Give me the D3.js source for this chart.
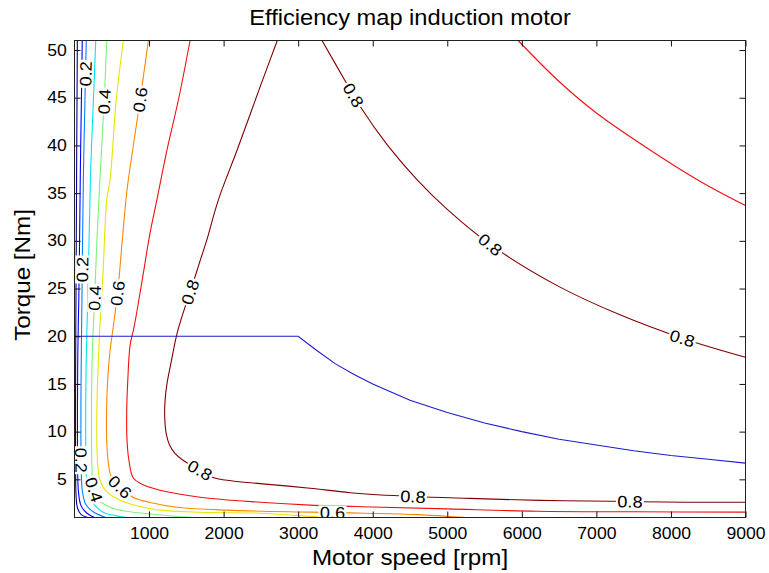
<!DOCTYPE html>
<html>
<head>
<meta charset="utf-8">
<script src="https://cdn.jsdelivr.net/npm/d3@7"></script>
<style>
  body { margin: 0; background: #fff; }
  svg { display: block; }
  text { font-family: "Liberation Sans", Arial, sans-serif; fill: #000; }
</style>
</head>
<body>
<svg width="769" height="573"></svg>
<script>
"use strict";

// efficiency levels (jet coloured in the original)
var levels = [0, 0.1, 0.2, 0.3, 0.4, 0.5, 0.6, 0.7, 0.8];

// contour lines, [speed rpm, torque Nm]
var eff00 = [[38,51],[34,45],[28,37],[24,30],[20,24],[16,18.5],[14,13],[14,9],[15,6],[20,3.5],[40,2],[90,1.3],[180,1.0]];
var eff01 = [[104,51],[93,45],[78,37],[68,30],[58,24],[45,18.5],[40,13],[40,9],[42,6],[52,3.8],[85,2.3],[160,1.5],[270,1.0]];
var eff02 = [[158,51],[141,45],[120,37],[108,30],[100,24],[92,18.5],[86,13],[86,9],[90,6],[105,3.8],[150,2.4],[250,1.6],[420,1.0]];
var eff03 = [[285,51],[255,45],[215,37],[195,30],[178,24],[160,18.5],[150,13],[150,9],[155,6],[178,3.8],[240,2.6],[383,1.56],[550,1.2],[705,1.0]];
var eff04 = [[432,51],[400,45],[345,37],[300,30],[270,24],[240,18.5],[228,13],[228,9],[235,6],[250,4.2],[300,3.0],[477,2.08],[700,1.65],[919,1.45],[1300,1.15],[1600,1.0]];
var eff05 = [[655,51],[560,44.8],[477,36.4],[432,34.3],[385,27],[340,21],[310,15.4],[300,12],[302,8],[318,6],[342,4.9],[420,3.8],[611,2.81],[850,2.2],[1148,1.77],[1700,1.55],[2490,1.45],[3000,1.2],[3430,1.0]];
var eff06 = [[991,51],[880,44.8],[780,39.5],[722,36.4],[690,34.3],[640,30],[584,25],[520,21],[477,18.5],[445,15.4],[430,12],[432,9],[450,7],[477,5.66],[530,4.8],[611,4.2],[785,3.13],[1000,2.6],[1376,2.08],[2047,1.77],[3160,1.56],[3900,1.45],[4600,1.3],[5240,1.0]];
var eff07a = [[1550,51],[1400,45],[1240,39.5],[1105,34.3],[1013,30.8],[900,25.5],[800,21],[745,19],[715,15.4],[700,12],[705,9],[730,7],[785,5.2],[900,4.5],[1148,3.86],[1685,3.13],[2490,2.6],[3160,2.3],[4000,2.1],[5000,1.9],[6200,1.66],[7500,1.6],[9000,1.56]];
var eff07b = [[5950,51],[6500,46.7],[7000,43.4],[7725,39.5],[8400,36.2],[9000,33.7]];
var eff08a = [[2720,51],[2530,47],[2180,39.5],[1930,34.3],[1775,30.1],[1680,27.8],[1591,25.6],[1480,23],[1376,20.3],[1289,17],[1240,15],[1215,13.3],[1210,11.5],[1230,9.8],[1275,8.6],[1350,7.7],[1456,7.0],[1685,5.96],[1860,5.2],[2100,4.85],[2490,4.55],[3160,4.07],[3700,3.6],[4540,3.2],[5300,3.0],[6250,2.8],[7200,2.7],[8200,2.6],[9000,2.6]];
var eff08b = [[3320,51],[3650,46.5],[3830,44.1],[4200,40],[4590,36.45],[5000,33.3],[5580,29.6],[6500,25.2],[7300,22.3],[8150,19.8],[9000,17.8]];

// where the contour labels sit: [level, rpm, Nm]
var labelSpots = [
  [0.2,150,47.5],[0.2,100,27],[0.2,88,7],
  [0.4,400,44.6],[0.4,270,24],[0.4,250,3.9],
  [0.6,880,44.8],[0.6,584,24.5],[0.6,611,4.2],[0.6,3460,1.4],
  [0.8,1560,24.6],[0.8,1685,6.0],[0.8,4540,3.2],[0.8,7450,2.7],
  [0.8,3700,45.1],[0.8,5577,29.6],[0.8,8154,19.8]
];

// torque limit of the motor
var limitSpeed  = [0, 1000, 2000, 3000, 3250, 3500, 3750, 4000, 4500, 5000, 5500, 6000, 6500, 7000, 7500, 8000, 8500, 9000];
var limitTorque = [20, 20, 20, 20, 18.5, 17.1, 16, 15, 13.3, 12, 10.9, 10, 9.2, 8.6, 8, 7.5, 7.1, 6.7];

var xTicks = [1000, 2000, 3000, 4000, 5000, 6000, 7000, 8000, 9000];
var yTicks = [5, 10, 15, 20, 25, 30, 35, 40, 45, 50];

var branches = [
  {level: 0,   pts: eff00}, {level: 0.1, pts: eff01}, {level: 0.2, pts: eff02},
  {level: 0.3, pts: eff03}, {level: 0.4, pts: eff04}, {level: 0.5, pts: eff05},
  {level: 0.6, pts: eff06}, {level: 0.7, pts: eff07a}, {level: 0.7, pts: eff07b},
  {level: 0.8, pts: eff08a}, {level: 0.8, pts: eff08b}
];

var jet = ["#00008f", "#0000ff", "#0080ff", "#00e6f0", "#7cf27c", "#e6e600", "#ff8800", "#f01010", "#800000"];
var color = d3.scaleOrdinal().domain(levels).range(jet);

var svg = d3.select("svg");
var x = d3.scaleLinear().domain([0, 9000]).range([74.5, 745.5]);
var y = d3.scaleLinear().domain([1, 51]).range([517.5, 40.5]);
var fontStretch = "scale(1.1,1)";

svg.append("clipPath").attr("id", "plot")
  .append("rect")
  .attr("x", x(0)).attr("y", y(51))
  .attr("width", x(9000) - x(0)).attr("height", y(1) - y(51));

var plot = svg.append("g").attr("clip-path", "url(#plot)");

var line = d3.line()
  .x(function(d) { return x(d[0]); })
  .y(function(d) { return y(d[1]); })
  .curve(d3.curveCatmullRom.alpha(0.5));

plot.selectAll(".contour")
  .data(branches)
  .enter().append("path")
    .attr("class", "contour")
    .attr("d", function(d) { return line(d.pts); })
    .attr("fill", "none")
    .attr("stroke", function(d) { return color(d.level); })
    .attr("stroke-width", 1.1);

// labels snapped on the nearest contour segment, turned along it
var labelLayer = plot.append("g");
labelSpots.forEach(function(spot) {
  var tx = x(spot[1]), ty = y(spot[2]);
  var best = null;
  branches.filter(function(b) { return b.level === spot[0]; }).forEach(function(b) {
    var P = b.pts.map(function(d) { return [x(d[0]), y(d[1])]; });
    for (var i = 0; i < P.length - 1; i++) {
      var ax = P[i][0], ay = P[i][1], dx = P[i+1][0] - ax, dy = P[i+1][1] - ay;
      var L = dx * dx + dy * dy;
      var u = L ? Math.max(0, Math.min(1, ((tx - ax) * dx + (ty - ay) * dy) / L)) : 0;
      var px = ax + u * dx, py = ay + u * dy;
      var dist = (px - tx) * (px - tx) + (py - ty) * (py - ty);
      if (!best || dist < best.dist) best = {dist: dist, x: px, y: py, a: Math.atan2(dy, dx) * 180 / Math.PI};
    }
  });
  var a = best.a;
  if (a > 90) a -= 180;
  if (a <= -90) a += 180;
  var g = labelLayer.append("g")
    .attr("transform", "translate(" + best.x + "," + best.y + ") rotate(" + a + ")");
  g.append("rect").attr("x", -14).attr("y", -7).attr("width", 28).attr("height", 14).attr("fill", "#fff");
  g.append("text")
    .attr("text-anchor", "middle")
    .attr("dy", "0.36em")
    .attr("font-size", 16.5)
    .attr("transform", fontStretch)
    .text(spot[0].toFixed(1));
});

plot.append("path")
  .datum(d3.zip(limitSpeed, limitTorque))
  .attr("d", d3.line().x(function(d) { return x(d[0]); }).y(function(d) { return y(d[1]); }))
  .attr("fill", "none")
  .attr("stroke", "#1c1cd0")
  .attr("stroke-width", 1.1);

// axes, ticks pointing inwards on all four sides
var gx = svg.append("g").attr("transform", "translate(0," + y(1) + ")")
  .call(d3.axisBottom(x).tickValues(xTicks).tickFormat(d3.format("d")).tickSize(-6).tickSizeOuter(0).tickPadding(10));
var gy = svg.append("g").attr("transform", "translate(" + x(0) + ",0)")
  .call(d3.axisLeft(y).tickValues(yTicks).tickFormat(d3.format("d")).tickSize(-6).tickSizeOuter(0).tickPadding(7));
svg.append("g").attr("transform", "translate(0," + y(51) + ")")
  .call(d3.axisTop(x).tickValues(xTicks).tickSize(-6).tickSizeOuter(0).tickFormat(""));
svg.append("g").attr("transform", "translate(" + x(9000) + ",0)")
  .call(d3.axisRight(y).tickValues(yTicks).tickSize(-6).tickSizeOuter(0).tickFormat(""));

svg.selectAll(".domain").remove();
svg.selectAll(".tick line").attr("stroke", "#111");
[gx, gy].forEach(function(g) {
  g.attr("font-size", 16).attr("font-family", null);
  g.selectAll("text").attr("fill", "#111").attr("transform", fontStretch);
});

svg.append("rect")
  .attr("x", x(0)).attr("y", y(51))
  .attr("width", x(9000) - x(0)).attr("height", y(1) - y(51))
  .attr("fill", "none").attr("stroke", "#222").attr("stroke-width", 1);

svg.append("text")
  .attr("transform", "translate(410,25) " + fontStretch)
  .attr("text-anchor", "middle").attr("font-size", 21.5)
  .text("Efficiency map induction motor");

svg.append("text")
  .attr("transform", "translate(410,565) " + fontStretch)
  .attr("text-anchor", "middle").attr("font-size", 22)
  .text("Motor speed [rpm]");

svg.append("text")
  .attr("transform", "translate(30,275) rotate(-90) " + fontStretch)
  .attr("text-anchor", "middle").attr("font-size", 22)
  .text("Torque [Nm]");
</script>
</body>
</html>
